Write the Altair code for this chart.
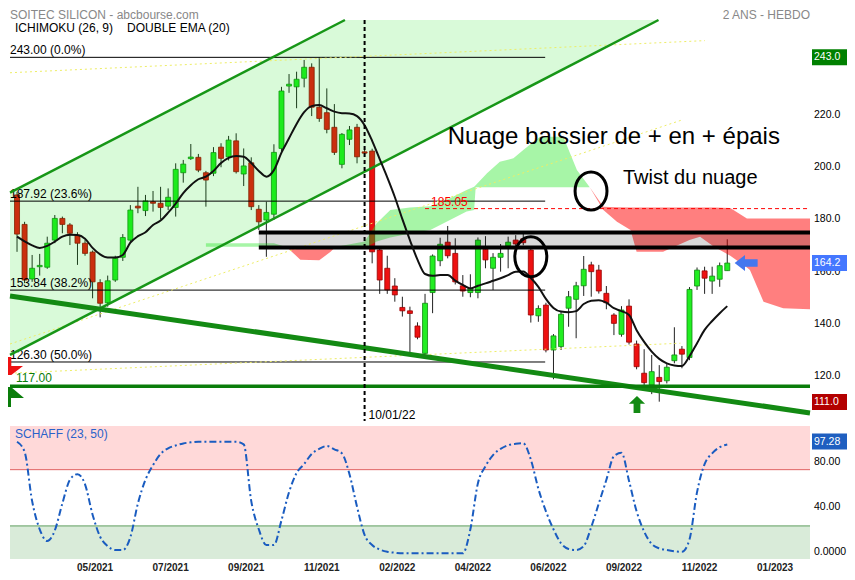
import altair as alt
import pandas as pd

FONT = "Liberation Sans"

# ---------------- data (weekly candles, idx 0 = week of 2021-02-22) ----------------
opens = [190.3, 179.0, 158.1, 162.8, 162.6, 173.0, 181.3, 178.8, 174.9, 171.8,
         168.4, 156.7, 149.0, 157.7, 166.4, 173.0, 186.0, 184.3, 187.7, 187.1,
         186.0, 185.5, 198.8, 204.2, 204.7, 198.8, 198.6, 208.6, 204.9, 211.0,
         198.3, 202.6, 184.8, 180.7, 182.9, 208.1, 232.0, 231.7, 235.0, 239.2,
         223.9, 221.8, 216.2, 202.0, 211.6, 216.2, 206.8, 207.1, 169.2, 162.2,
         155.4, 147.2, 145.9, 140.1, 129.6, 152.9, 165.1, 172.2, 167.9, 155.5,
         152.9, 152.9, 169.5, 162.2, 166.4, 170.7, 173.0, 173.5, 169.2, 144.0,
         148.1, 130.9, 132.2, 146.9, 150.3, 155.5, 163.5, 161.5, 152.6, 144.3,
         136.9, 147.7, 133.2, 122.0, 117.5, 120.4, 119.1, 126.8, 131.2, 128.0,
         155.4, 161.2, 157.3, 158.0, 161.3]
highs = [191.5, 180.0, 167.3, 167.7, 174.3, 182.6, 182.0, 179.5, 176.0, 173.0,
         169.0, 158.0, 159.4, 167.0, 175.3, 186.4, 193.4, 190.3, 191.8, 193.4,
         192.8, 202.4, 203.7, 209.8, 206.0, 199.5, 208.6, 210.1, 212.9, 213.9,
         208.1, 204.7, 186.4, 187.7, 209.7, 231.7, 236.6, 237.5, 242.0, 240.7,
         243.0, 231.1, 225.1, 214.0, 216.7, 217.5, 207.5, 208.0, 170.0, 167.0,
         158.4, 151.3, 147.5, 141.5, 152.4, 167.5, 173.9, 178.4, 173.7, 159.6,
         159.9, 174.0, 174.5, 168.0, 171.5, 174.3, 174.9, 175.5, 170.5, 148.0,
         149.0, 137.0, 145.5, 153.5, 157.0, 166.9, 164.7, 163.5, 155.4, 145.0,
         147.7, 150.3, 134.5, 131.2, 129.0, 125.1, 125.5, 139.6, 132.4, 155.0,
         162.5, 162.8, 162.8, 164.4, 173.3]
lows = [168.5, 156.5, 157.0, 159.4, 162.0, 171.8, 175.6, 171.1, 163.5, 167.0,
        150.7, 143.4, 147.5, 157.0, 165.0, 172.0, 183.3, 182.2, 183.9, 181.0,
        184.5, 182.0, 195.0, 203.7, 199.0, 185.8, 197.5, 200.9, 203.5, 198.5,
        193.7, 184.5, 176.9, 166.6, 180.7, 207.0, 229.4, 223.5, 231.5, 220.5,
        218.3, 213.9, 205.6, 200.5, 209.4, 202.4, 205.5, 164.1, 152.4, 152.4,
        149.4, 143.7, 129.6, 135.0, 128.6, 145.0, 163.0, 166.0, 156.0, 151.3,
        151.1, 150.7, 162.2, 153.9, 160.9, 162.2, 170.5, 171.0, 141.4, 141.7,
        130.0, 119.7, 130.9, 139.8, 135.4, 151.6, 151.3, 152.5, 146.5, 136.6,
        136.0, 133.0, 123.5, 117.5, 114.0, 111.1, 118.1, 125.8, 123.9, 127.0,
        153.9, 152.4, 152.4, 155.1, 161.3]
closes = [175.3, 157.7, 162.2, 163.3, 171.8, 181.3, 179.0, 175.6, 171.8, 167.9,
          157.0, 148.8, 157.4, 166.0, 174.0, 184.5, 185.3, 188.0, 187.1, 185.5,
          189.4, 200.1, 202.1, 204.8, 199.8, 196.0, 206.5, 204.3, 211.3, 199.2,
          201.4, 185.8, 180.0, 183.6, 206.6, 230.1, 232.7, 234.6, 239.2, 223.9,
          219.6, 215.4, 206.6, 213.5, 215.2, 204.9, 206.3, 168.5, 157.7, 153.9,
          152.0, 145.9, 144.9, 135.8, 148.8, 166.9, 171.4, 167.0, 157.0, 153.5,
          154.5, 173.0, 165.4, 166.4, 167.9, 172.2, 171.5, 172.0, 144.3, 146.8,
          130.9, 136.3, 144.6, 151.3, 155.5, 161.8, 160.9, 153.5, 149.0, 141.1,
          146.2, 133.9, 124.5, 118.4, 122.6, 118.8, 124.3, 129.0, 129.3, 154.1,
          161.5, 158.4, 159.2, 163.2, 164.2]
ema20 = [174.3, 172.5, 171.0, 170.0, 170.8, 172.4, 174.3, 175.0, 174.9, 173.5,
         170.0, 167.5, 166.3, 166.3, 167.3, 172.0, 174.5, 176.0, 178.8, 180.5,
         183.5, 187.0, 191.0, 194.0, 196.3, 197.3, 199.5, 202.5, 204.5, 205.2,
         204.9, 202.5, 199.5, 197.3, 199.8, 206.5, 212.0, 217.5, 222.0, 224.3,
         224.7, 223.5, 222.2, 221.6, 221.5, 220.5, 217.0, 211.0, 204.0, 197.0,
         189.5, 181.0, 173.0, 165.5, 160.0, 159.3, 159.6, 159.6, 157.5, 155.8,
         154.5, 155.5, 156.4, 157.4, 158.4, 159.6, 160.9, 161.0, 158.5, 155.1,
         150.5, 147.0, 145.6, 145.4, 145.8, 148.5, 149.8, 150.0, 149.0, 146.9,
         145.8, 144.3, 138.5, 134.0, 130.3, 127.5, 125.8, 125.0, 124.8, 128.5,
         133.5, 138.6, 142.0, 145.0, 147.7]
schaff = [99.8, 91.0, 47.0, 22.0, 11.6, 21.0, 45.0, 66.0, 71.0, 62.0,
          35.0, 15.4, 7.0, 3.6, 3.6, 15.0, 45.0, 66.0, 79.0, 89.0,
          94.0, 96.5, 98.3, 99.3, 99.8, 99.8, 99.8, 99.8, 99.8, 99.8,
          97.5, 47.0, 22.0, 8.0, 8.0, 30.0, 55.0, 72.0, 80.0, 89.0,
          93.5, 96.0, 93.0, 89.5, 71.0, 42.0, 17.0, 8.0, 4.0, 2.0,
          1.2, 0.6, 0.6, 0.6, 0.6, 0.6, 0.6, 0.6, 0.6, 0.6,
          22.0, 63.0, 78.0, 88.0, 93.5, 96.8, 98.0, 98.4, 84.0, 58.0,
          38.0, 22.0, 9.5, 4.5, 3.6, 7.0, 24.0, 45.0, 66.0, 87.0,
          90.0, 65.0, 38.0, 20.0, 9.0, 5.0, 3.6, 2.5, 2.0, 13.0,
          55.0, 80.0, 89.5, 95.0, 97.28]

x_tick_idx = [10, 20, 30, 40, 50, 60, 70, 80, 90, 100]
x_tick_labels = ["05/2021", "07/2021", "09/2021", "11/2021", "02/2022",
                 "04/2022", "06/2022", "09/2022", "11/2022", "01/2023"]

# Ichimoku cloud (senkou span A / B)
cloud_idx = [25, 34, 35.5, 36, 37.5, 40, 41.5, 42, 43, 46,
             47.6, 49.4, 52, 54.7, 57.3, 59.5, 60.5, 60.7, 62.2, 63.9,
             65.7, 67.0, 69.2, 72.3, 74.1, 75.8, 77.6, 79.4, 81.2, 82.0,
             85.5, 89.0, 90.4, 92.2, 94.4, 96.6, 97.0, 98.8, 101.4, 104.95]
span_a = [171.8, 171.8, 170.4, 169.5, 165.5, 165.3, 168.5, 170.0, 170.8, 172.5,
          179.4, 184.5, 185.5, 186.0, 189.0, 192.2, 193.4, 194.0, 198.6, 203.0,
          204.3, 207.5, 212.6, 212.6, 199.8, 193.2, 184.5, 180.0, 176.9, 168.5,
          168.5, 173.0, 174.3, 170.5, 167.0, 162.5, 161.5, 149.4, 146.9, 146.5]
span_b = [170.4, 170.4, 170.4, 170.3, 170.2, 170.0, 170.0, 170.0, 170.0, 170.0,
          172.5, 174.0, 175.5, 176.9, 180.7, 183.9, 184.5, 193.2, 193.2, 193.2,
          193.2, 193.2, 193.2, 193.2, 193.2, 193.2, 185.8, 185.6, 185.5, 185.5,
          185.5, 185.5, 185.5, 185.5, 185.3, 181.3, 181.3, 181.3, 181.3, 181.3]

fib_levels = [243.00, 187.92, 153.84, 126.30]
fib_labels = ["243.00  (0.0%)", "187.92  (23.6%)", "153.84  (38.2%)", "126.30  (50.0%)"]
fib_end_idx = 69.9

# trend lines: (idx0, price0, idx1, price1)
chan_upper = (-0.93, 191.2, 43.4, 257.3)
chan_lower = (-0.93, 129.0, 84.9, 257.3)
support_line = (-0.93, 151.6, 104.95, 106.8)
yellow_lines = [(-0.93, 237.1, 91.05, 249.4),
                (-0.93, 133.2, 88.0, 219.0),
                (-0.93, 122.0, 87.8, 133.5)]

band_low, band_high, band_start = 170.2, 175.9, 32.0
level_117 = 117.0
level_red = 185.05
red_start = 54.0
date_line_idx = 46
last_close = 164.2
low_box = 111.0
high_box = 243.0
schaff_last = 97.28

price_ticks = [220, 200, 180, 160, 140, 120]
schaff_ticks = [80, 40, 0]
schaff_tick_labels = ["80.00", "40.00", "0.0000"]

# ---------------- scales ----------------
X_DOM = [-0.93, 104.95]
xs = alt.Scale(domain=X_DOM, nice=False, zero=False, padding=0)
expr = "''"
for v, l in reversed(list(zip(x_tick_idx, x_tick_labels))):
    expr = f"datum.value == {v} ? '{l}' : ({expr})"
xaxis = alt.Axis(values=x_tick_idx, labelExpr=expr, ticks=False, domain=False, grid=False,
                 labelFont=FONT, labelFontSize=10, labelFontWeight="bold", labelColor="#222",
                 labelPadding=3, labelOffset=2, title=None, labelOverlap=False, orient="bottom")

MAIN_RANGE = [401, 0]
SCH_RANGE = [539, 406]
LAB_X = 804     # right-hand labels (plot coords)
BOX_X = 819.5   # centre of value boxes (plot coords)


def X(f):
    return alt.X(f"{f}:Q", scale=xs, axis=xaxis)


def YP(f):
    return alt.Y(f"{f}:Q", scale=alt.Scale(domain=[103.7, 257.3], range=MAIN_RANGE, nice=False,
                                           zero=False, padding=0), axis=None)


def YS(f):
    return alt.Y(f"{f}:Q", scale=alt.Scale(domain=[-4.4, 113.8], range=SCH_RANGE, nice=False,
                                           zero=False, padding=0), axis=None)


layers = []

# ---------- Schaff panel background ----------
sb = pd.DataFrame({"lo": [75, 25, -4.4], "hi": [113.8, 75, 25], "c": ["#ffd9d9", "#ffffff", "#d9ebd9"]})
layers.append(alt.Chart(sb).mark_rect().encode(
    x=alt.value(0), x2=alt.value(800), y=YS("lo"), y2=alt.Y2("hi"), color=alt.Color("c:N", scale=None)))
sl = pd.DataFrame({"v": [75, 25], "c": ["#e06060", "#5e9e5e"]})
layers.append(alt.Chart(sl).mark_rule(strokeWidth=1).encode(
    x=alt.value(0), x2=alt.value(800), y=YS("v"), color=alt.Color("c:N", scale=None)))

# ---------- candles ----------
cd = pd.DataFrame({"idx": list(range(len(closes))), "open": opens, "high": highs,
                   "low": lows, "close": closes})
up = cd["close"] >= cd["open"]
cd["fill"] = ["#22ee22" if u else "#ee1111" for u in up]
cd["stroke"] = ["#118811" if u else "#990000" for u in up]
layers.append(alt.Chart(cd).mark_rule(color="#222", strokeWidth=1).encode(
    x=X("idx"), y=YP("low"), y2=alt.Y2("high")))
layers.append(alt.Chart(cd).mark_bar(size=5, strokeWidth=0.8).encode(
    x=X("idx"), y=YP("open"), y2=alt.Y2("close"),
    color=alt.Color("fill:N", scale=None), stroke=alt.Stroke("stroke:N", scale=None)))


# ---------- rising channel fill ----------
def line_at(l, x):
    x0, p0, x1, p1 = l
    return p0 + (p1 - p0) * (x - x0) / (x1 - x0)


ch = pd.DataFrame({
    "idx": [chan_upper[0], chan_upper[2], chan_lower[2]],
    "lo": [chan_lower[1], line_at(chan_lower, chan_upper[2]), chan_lower[3]],
    "hi": [chan_upper[1], chan_upper[3], chan_lower[3]],
})
layers.append(alt.Chart(ch).mark_area(color="#00dd00", opacity=0.15).encode(
    x=X("idx"), y=YP("lo"), y2=alt.Y2("hi")))

# ---------- Ichimoku cloud ----------
rows = []
seg = 0
cur_sign = None
for x, a, b in zip(cloud_idx, span_a, span_b):
    s = (a > b) - (a < b)
    if s == 0:
        rows.append((seg, cur_sign, x, a, b))
        seg += 1
        cur_sign = None
        rows.append((seg, None, x, a, b))
    else:
        if cur_sign is None:
            cur_sign = s
            rows = [(r[0], s if (r[0] == seg and r[1] is None) else r[1], r[2], r[3], r[4]) for r in rows]
        rows.append((seg, s, x, a, b))
cl = pd.DataFrame(rows, columns=["seg", "sign", "idx", "a", "b"]).dropna()
cl["lo"] = cl[["a", "b"]].min(axis=1)
cl["hi"] = cl[["a", "b"]].max(axis=1)
cl["c"] = ["#2ee82e" if s > 0 else "#ff0000" for s in cl["sign"]]
cl["op"] = [0.42 if s > 0 else 0.5 for s in cl["sign"]]
layers.append(alt.Chart(cl).mark_area(strokeWidth=0).encode(
    x=X("idx"), y=YP("lo"), y2=alt.Y2("hi"), detail="seg:N",
    color=alt.Color("c:N", scale=None), opacity=alt.Opacity("op:Q", scale=None)))

# ---------- grey band ----------
bd = pd.DataFrame({"x0": [band_start], "x1": [X_DOM[1]], "lo": [band_low], "hi": [band_high]})
layers.append(alt.Chart(bd).mark_rect(color="#000000", opacity=0.15).encode(
    x=X("x0"), x2=alt.X2("x1"), y=YP("lo"), y2=alt.Y2("hi")))

# ---------- fibonacci lines ----------
fd = pd.DataFrame({"p": fib_levels, "lab": fib_labels, "x0": X_DOM[0], "x1": fib_end_idx})
layers.append(alt.Chart(fd).mark_rule(color="#000", strokeWidth=1).encode(
    x=X("x0"), x2=alt.X2("x1"), y=YP("p")))
layers.append(alt.Chart(fd).mark_text(align="left", baseline="alphabetic", dy=-3, fontSize=12,
                                      font=FONT, color="#000").encode(
    x=X("x0"), y=YP("p"), text="lab:N"))

# ---------- yellow dotted lines ----------
yrows = []
for i, (a0, p0, a1, p1) in enumerate(yellow_lines):
    yrows += [(i, a0, p0), (i, a1, p1)]
yd = pd.DataFrame(yrows, columns=["k", "idx", "p"])
layers.append(alt.Chart(yd).mark_line(color="#eeee66", strokeWidth=1, strokeDash=[2, 3]).encode(
    x=X("idx"), y=YP("p"), detail="k:N"))

# ---------- channel lines ----------
crow = [("u", chan_upper[0], chan_upper[1]), ("u", chan_upper[2], chan_upper[3]),
        ("l", chan_lower[0], chan_lower[1]), ("l", chan_lower[2], chan_lower[3])]
cdl = pd.DataFrame(crow, columns=["k", "idx", "p"])
layers.append(alt.Chart(cdl).mark_line(color="#179617", strokeWidth=2.5).encode(
    x=X("idx"), y=YP("p"), detail="k:N"))

# support (descending) thick line
sd = pd.DataFrame({"idx": [support_line[0], support_line[2]], "p": [support_line[1], support_line[3]]})
layers.append(alt.Chart(sd).mark_line(color="#138a13", strokeWidth=5).encode(x=X("idx"), y=YP("p")))

# 117 line
l117 = pd.DataFrame({"x0": [X_DOM[0]], "x1": [X_DOM[1]], "p": [level_117], "lab": ["117.00"]})
layers.append(alt.Chart(l117).mark_rule(color="#0a7d0a", strokeWidth=3.5).encode(
    x=X("x0"), x2=alt.X2("x1"), y=YP("p")))
layers.append(alt.Chart(l117).mark_text(align="left", baseline="alphabetic", dy=-4, fontSize=12,
                                        font=FONT, color="#0a7d0a").encode(
    x=alt.value(6), y=YP("p"), text="lab:N"))

# red dashed 185.05
lr = pd.DataFrame({"x0": [red_start], "x1": [X_DOM[1]], "p": [level_red], "lab": ["185.05"],
                   "xl": [red_start + 0.8]})
layers.append(alt.Chart(lr).mark_rule(color="#ff0000", strokeWidth=1, strokeDash=[4, 3]).encode(
    x=X("x0"), x2=alt.X2("x1"), y=YP("p")))
layers.append(alt.Chart(lr).mark_text(align="left", baseline="alphabetic", dy=-3, fontSize=12,
                                      font=FONT, color="#ff0000").encode(
    x=X("xl"), y=YP("p"), text="lab:N"))

# band black lines
bl = pd.DataFrame({"x0": [band_start, band_start], "x1": [X_DOM[1], X_DOM[1]], "p": [band_low, band_high]})
layers.append(alt.Chart(bl).mark_rule(color="#000", strokeWidth=4).encode(
    x=X("x0"), x2=alt.X2("x1"), y=YP("p")))

# EMA
ed = pd.DataFrame({"idx": list(range(len(ema20))), "v": ema20})
layers.append(alt.Chart(ed).mark_line(color="#111", strokeWidth=2, interpolate="monotone").encode(
    x=X("idx"), y=YP("v")))

# dashed date line
dd = pd.DataFrame({"idx": [date_line_idx], "lab": ["10/01/22"]})
layers.append(alt.Chart(dd).mark_rule(color="#000", strokeWidth=2, strokeDash=[4, 3]).encode(
    x=X("idx"), y=alt.value(0), y2=alt.value(401)))
layers.append(alt.Chart(dd).mark_text(align="left", baseline="alphabetic", dx=4, fontSize=12,
                                      font=FONT, color="#000").encode(
    x=X("idx"), y=alt.value(399), text="lab:N"))

# Schaff line
scd = pd.DataFrame({"idx": list(range(len(schaff))), "v": schaff})
layers.append(alt.Chart(scd).mark_line(color="#1a5cc0", strokeWidth=2, strokeDash=[7, 3, 2, 3],
                                       interpolate="monotone").encode(x=X("idx"), y=YS("v")))

# ---------- annotations ----------
ELL1 = "M -0.84 0 A 0.84 1 0 1 1 0.84 0 A 0.84 1 0 1 1 -0.84 0 Z"
ELL2 = "M -0.8 0 A 0.8 1 0 1 1 0.8 0 A 0.8 1 0 1 1 -0.8 0 Z"
e1 = pd.DataFrame({"idx": [75.97], "p": [191.8]})
e2 = pd.DataFrame({"idx": [68.0], "p": [166.6]})
layers.append(alt.Chart(e1).mark_point(shape=ELL1, size=1444, filled=False, color="#000",
                                       strokeWidth=3, opacity=1).encode(x=X("idx"), y=YP("p")))
layers.append(alt.Chart(e2).mark_point(shape=ELL2, size=1600, filled=False, color="#000",
                                       strokeWidth=3, opacity=1).encode(x=X("idx"), y=YP("p")))

notes = pd.DataFrame({"idx": [57.0, 80.2], "p": [212.5, 196.6],
                      "t": ["Nuage baissier de + en + épais", "Twist du nuage"],
                      "fs": [24, 20]})
layers.append(alt.Chart(notes).mark_text(align="left", baseline="middle", font=FONT, color="#000").encode(
    x=X("idx"), y=YP("p"), text="t:N", size=alt.Size("fs:Q", scale=None)))

ARROW_L = "M -1 0 L -0.1 -0.7 L -0.1 -0.33 L 1 -0.33 L 1 0.33 L -0.1 0.33 L -0.1 0.7 Z"
ARROW_U = "M 0 -1 L 0.95 -0.1 L 0.4 -0.1 L 0.4 1 L -0.4 1 L -0.4 -0.1 L -0.95 -0.1 Z"
ab = pd.DataFrame({"idx": [96.5], "p": [last_close]})
layers.append(alt.Chart(ab).mark_point(shape=ARROW_L, size=529, filled=True, color="#4477ee",
                                       opacity=1).encode(x=X("idx"), y=YP("p")))
ag = pd.DataFrame({"idx": [82.05], "p": [110.0]})
layers.append(alt.Chart(ag).mark_point(shape=ARROW_U, size=289, filled=True, color="#138a13",
                                       opacity=1).encode(x=X("idx"), y=YP("p")))

# small markers at the left edge
FLAG_R = "M -1 -1 L -0.3 -1 L -0.3 0 L 1 0 L -0.3 1 L -1 1 Z"
FLAG_G = "M -0.3 -1 L 1 0.1 L -0.3 0.1 L -0.3 1 L -1 1 L -1 -1 Z"
fm = pd.DataFrame({"p": [124.8]})
layers.append(alt.Chart(fm).mark_point(shape=FLAG_R, size=324, filled=True, color="#ee1111",
                                       opacity=1).encode(x=alt.value(4), y=YP("p")))
gm = pd.DataFrame({"p": [112.9]})
layers.append(alt.Chart(gm).mark_point(shape=FLAG_G, size=400, filled=True, color="#0a7d0a",
                                       opacity=1).encode(x=alt.value(4), y=YP("p")))

# ---------- right axes (labels + value boxes) ----------
pt = pd.DataFrame({"p": price_ticks, "lab": [f"{v:.1f}" for v in price_ticks]})
layers.append(alt.Chart(pt).mark_text(align="left", baseline="middle", dy=-2.5, fontSize=10.5,
                                      font=FONT, color="#000").encode(
    x=alt.value(LAB_X), y=YP("p"), text="lab:N"))
st = pd.DataFrame({"v": schaff_ticks, "lab": schaff_tick_labels})
layers.append(alt.Chart(st).mark_text(align="left", baseline="middle", dy=-2.5, fontSize=10.5,
                                      font=FONT, color="#000").encode(
    x=alt.value(LAB_X), y=YS("v"), text="lab:N"))

BOX = "M -1 -0.457 L 1 -0.457 L 1 0.457 L -1 0.457 Z"
pb = pd.DataFrame({"p": [high_box, last_close, low_box],
                   "lab": [f"{high_box:.1f}", f"{last_close:.1f}", f"{low_box:.1f}"],
                   "c": ["#008000", "#4477ff", "#b30000"]})
layers.append(alt.Chart(pb).mark_point(shape=BOX, size=1225, filled=True, opacity=1).encode(
    x=alt.value(BOX_X), y=YP("p"), color=alt.Color("c:N", scale=None)))
layers.append(alt.Chart(pb).mark_text(align="left", baseline="middle", fontSize=10.5, font=FONT,
                                      color="#fff").encode(
    x=alt.value(LAB_X), y=YP("p"), text="lab:N"))
sbx = pd.DataFrame({"v": [schaff_last], "lab": [f"{schaff_last:.2f}"]})
layers.append(alt.Chart(sbx).mark_point(shape=BOX, size=1225, filled=True, opacity=1, color="#1f5fc0",
                                        yOffset=-3).encode(x=alt.value(BOX_X), y=YS("v")))
layers.append(alt.Chart(sbx).mark_text(align="left", baseline="middle", fontSize=10.5, font=FONT,
                                       color="#fff", dy=-3).encode(
    x=alt.value(LAB_X), y=YS("v"), text="lab:N"))

# ---------- titles ----------
tt = pd.DataFrame({"x": [0, 800, 5, 117, 5], "y": [-1, -1, 11.5, 11.5, 418],
                   "t": ["SOITEC SILICON - abcbourse.com", "2 ANS - HEBDO", "ICHIMOKU (26, 9)",
                         "DOUBLE EMA (20)", "SCHAFF (23, 50)"],
                   "a": ["left", "right", "left", "left", "left"],
                   "c": ["#888888", "#888888", "#000000", "#000000", "#2a62c9"]})
for _, r in tt.iterrows():
    layers.append(alt.Chart(pd.DataFrame([r])).mark_text(
        align=r["a"], baseline="alphabetic", fontSize=12, font=FONT, color=r["c"]).encode(
        x=alt.value(float(r["x"])), y=alt.value(float(r["y"])), text="t:N"))

chart = alt.layer(*layers).resolve_scale(y="independent").properties(
    width=800, height=539,
    padding={"left": 2, "top": 12, "right": 37, "bottom": 13},
    autosize=alt.AutoSizeParams(type="none"),
).configure_view(stroke=None)

chart.save("out.html", embed_options={"renderer": "svg", "actions": False})
